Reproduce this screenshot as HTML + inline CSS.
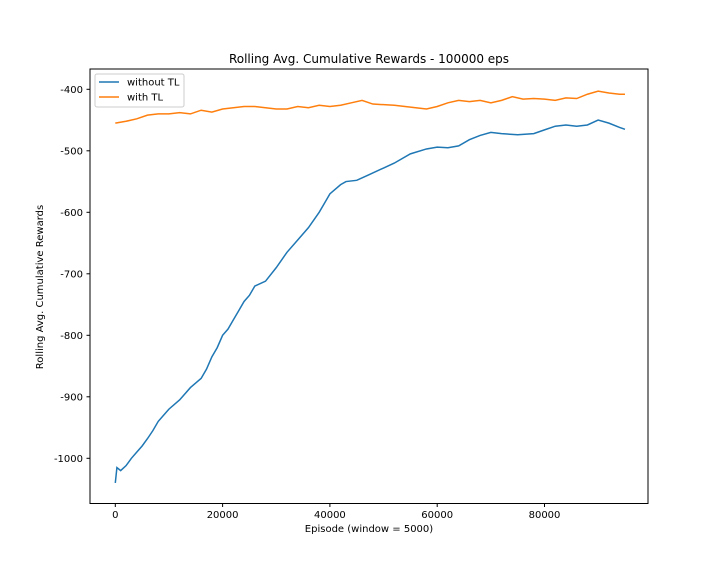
<!DOCTYPE html>
<html><head><meta charset="utf-8"><style>
body{margin:0;background:#fff}
svg text{font-family:"DejaVu Sans","Liberation Sans",sans-serif;font-size:10px;fill:#000}
</style></head><body>
<svg id="chart" width="720" height="576">
<rect width="720" height="576" fill="#fff"/>
<text x="369" y="63" text-anchor="middle" style="font-size:12px">Rolling Avg. Cumulative Rewards - 100000 eps</text>
<g id="plot"></g>
<rect x="90" y="69" width="558" height="434.5" fill="none" stroke="#000" stroke-width="1"/>
<text x="369" y="532" text-anchor="middle">Episode (window = 5000)</text>
<text transform="translate(43,287) rotate(-90)" text-anchor="middle">Rolling Avg. Cumulative Rewards</text>
<g>
<rect x="95" y="74" width="89" height="33" rx="2" fill="#fff" fill-opacity="0.8" stroke="#ccc"/>
<line x1="99" y1="82" x2="119" y2="82" stroke="#1f77b4" stroke-width="1.5"/>
<text x="127" y="85.5">without TL</text>
<line x1="99" y1="97" x2="119" y2="97" stroke="#ff7f0e" stroke-width="1.5"/>
<text x="127" y="100.5">with TL</text>
</g>
</svg>
<script>
const xTicks=[0,20000,40000,60000,80000];
const yTicks=[-1000,-900,-800,-700,-600,-500,-400];
const episodes=[0,300,1000,2000,3000,4000,5000,6000,7000,8000,9000,10000,12000,14000,16000,17000,18000,19000,20000,21000,22000,23000,24000,25000,26000,28000,30000,32000,34000,36000,38000,39000,40000,42000,43000,45000,47000,50000,52000,55000,58000,60000,62000,64000,66000,68000,70000,72000,75000,78000,80000,82000,84000,86000,88000,90000,92000,94000,95000];
const withoutTL=[-1040,-1015,-1020,-1012,-1000,-990,-980,-968,-955,-940,-930,-920,-905,-885,-870,-855,-835,-820,-800,-790,-775,-760,-745,-735,-720,-712,-690,-665,-645,-625,-600,-585,-570,-555,-550,-548,-540,-528,-520,-505,-497,-494,-495,-492,-482,-475,-470,-472,-474,-472,-466,-460,-458,-460,-458,-450,-455,-462,-465];
const episodes2=[0,2000,4000,6000,8000,10000,12000,14000,16000,18000,20000,22000,24000,26000,28000,30000,32000,34000,36000,38000,40000,42000,44000,46000,48000,50000,52000,54000,56000,58000,60000,62000,64000,66000,68000,70000,72000,74000,76000,78000,80000,82000,84000,86000,88000,90000,92000,94000,95000];
const withTL=[-455,-452,-448,-442,-440,-440,-438,-440,-434,-437,-432,-430,-428,-428,-430,-432,-432,-428,-430,-426,-428,-426,-422,-418,-424,-425,-426,-428,-430,-432,-428,-422,-418,-420,-418,-422,-418,-412,-416,-415,-416,-418,-414,-415,-408,-403,-406,-408,-408];
const NS='http://www.w3.org/2000/svg';
const X=v=>115.3+(v/20000)*107.3;
const Y=v=>89.3+(-400-v)*0.615;
const g=document.getElementById('plot');
function mk(t,a){const e=document.createElementNS(NS,t);for(const k in a)e.setAttribute(k,a[k]);g.appendChild(e);return e;}
xTicks.forEach(t=>{
 const l=mk('line',{x1:X(t),x2:X(t),y1:503.5,y2:507,stroke:'#000'});
 
 
 const tx=mk('text',{x:X(t),y:518,'text-anchor':'middle'});tx.textContent=t;
 
 
});
yTicks.forEach(t=>{
 const l=mk('line',{x1:86.5,x2:90,y1:Y(t),y2:Y(t),stroke:'#000'});
 
 
 const tx=mk('text',{x:83,y:Y(t)+3.5,'text-anchor':'end'});tx.textContent='-'+Math.abs(t);
 
 
});
const p1=mk('polyline',{points:episodes.map((e,i)=>X(e)+','+Y(withoutTL[i])).join(' '),fill:'none',stroke:'#1f77b4','stroke-width':1.5});


const p2=mk('polyline',{points:episodes2.map((e,i)=>X(e)+','+Y(withTL[i])).join(' '),fill:'none',stroke:'#ff7f0e','stroke-width':1.5});


</script>
</body></html>
